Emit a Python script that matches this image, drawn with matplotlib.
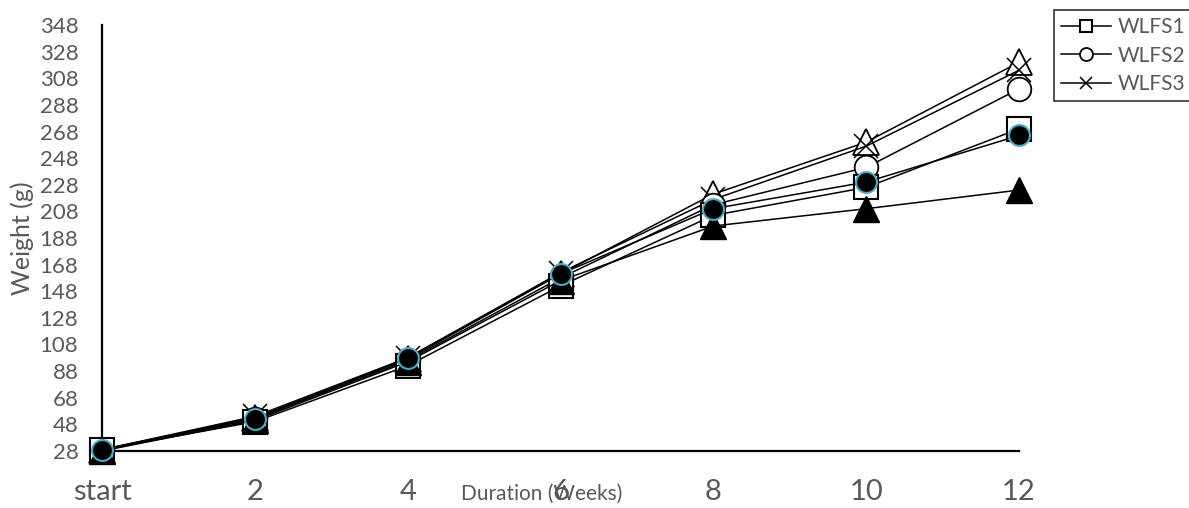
import matplotlib
matplotlib.use("Agg")
import matplotlib.pyplot as plt

plt.rcParams['font.family'] = ['Lato', 'DejaVu Sans']

weeks = ["start", "2", "4", "6", "8", "10", "12"]
y_ticks = [28, 48, 68, 88, 108, 128, 148, 168, 188, 208, 228, 248, 268, 288, 308, 328, 348]

wlfs1 = [29, 50, 92, 152, 205, 226, 270]
wlfs2 = [29, 52, 96, 158, 213, 241, 300]
wlfs3 = [29, 54, 98, 162, 217, 257, 314]
group4 = [29, 53, 97, 161, 221, 260, 320]
group5 = [28, 51, 95, 156, 197, 210, 224]
group6 = [29, 52, 98, 161, 210, 230, 265]

grey = "#595959"
x = list(range(len(weeks)))

fig = plt.figure(figsize=(11.89, 5.08), dpi=100)
ax = fig.add_axes([102/1189, 57/508, 917/1189, 426/508])

lw = 1.1
# open triangle series (not in legend)
ax.plot(x, group4, color="black", lw=lw, marker="^", ms=19, mfc="white", mec="black", mew=1.3, zorder=2, clip_on=False)
l3, = ax.plot(x, wlfs3, color="black", lw=lw, marker="x", ms=17, mec="black", mew=1.1, zorder=3, label="WLFS3", clip_on=False)
l2, = ax.plot(x, wlfs2, color="black", lw=lw, marker="o", ms=17, mfc="white", mec="black", mew=1.3, zorder=4, label="WLFS2", clip_on=False)
l1, = ax.plot(x, wlfs1, color="black", lw=lw, marker="s", ms=17, mfc="white", mec="black", mew=1.5, zorder=5, label="WLFS1", clip_on=False)
ax.plot(x, group5, color="black", lw=lw, marker="^", ms=19, mfc="black", mec="black", zorder=6, clip_on=False)
ax.plot(x, group6, color="black", lw=lw, marker="o", ms=15, mfc="black", mec="#4bacc6", mew=1.5, zorder=7, clip_on=False)

ax.set_xlim(0, 6)
ax.set_ylim(28, 348)
ax.set_xticks(x)
ax.set_xticklabels(weeks)
ax.set_yticks(y_ticks)

for s in ["top", "right"]:
    ax.spines[s].set_visible(False)
for s in ["left", "bottom"]:
    ax.spines[s].set_linewidth(1.6)
    ax.spines[s].set_color("black")
    ax.spines[s].set_zorder(1)

ax.tick_params(axis="y", length=0, pad=17, labelsize=16, labelcolor=grey)
ax.tick_params(axis="x", length=0, pad=20, labelsize=21, labelcolor=grey)

fig.text(22/1189, 1 - 238/508, "Weight (g)", rotation=90, ha="center", va="center",
         fontsize=18, color=grey)
fig.text(542/1189, 1 - 494/508, "Duration (Weeks)", ha="center", va="center",
         fontsize=15, color=grey)

leg = fig.legend(handles=[l1, l2, l3], loc="upper left",
                 bbox_to_anchor=(1054/1189, 1 - 10/508), frameon=True, fancybox=False,
                 fontsize=15, labelcolor=grey, handlelength=2.4, handletextpad=0.3,
                 borderpad=0.35, labelspacing=0.4, markerscale=0.55, borderaxespad=0)
leg.get_frame().set_edgecolor("black")
leg.get_frame().set_linewidth(1.2)

fig.savefig("out.png", dpi=100)
